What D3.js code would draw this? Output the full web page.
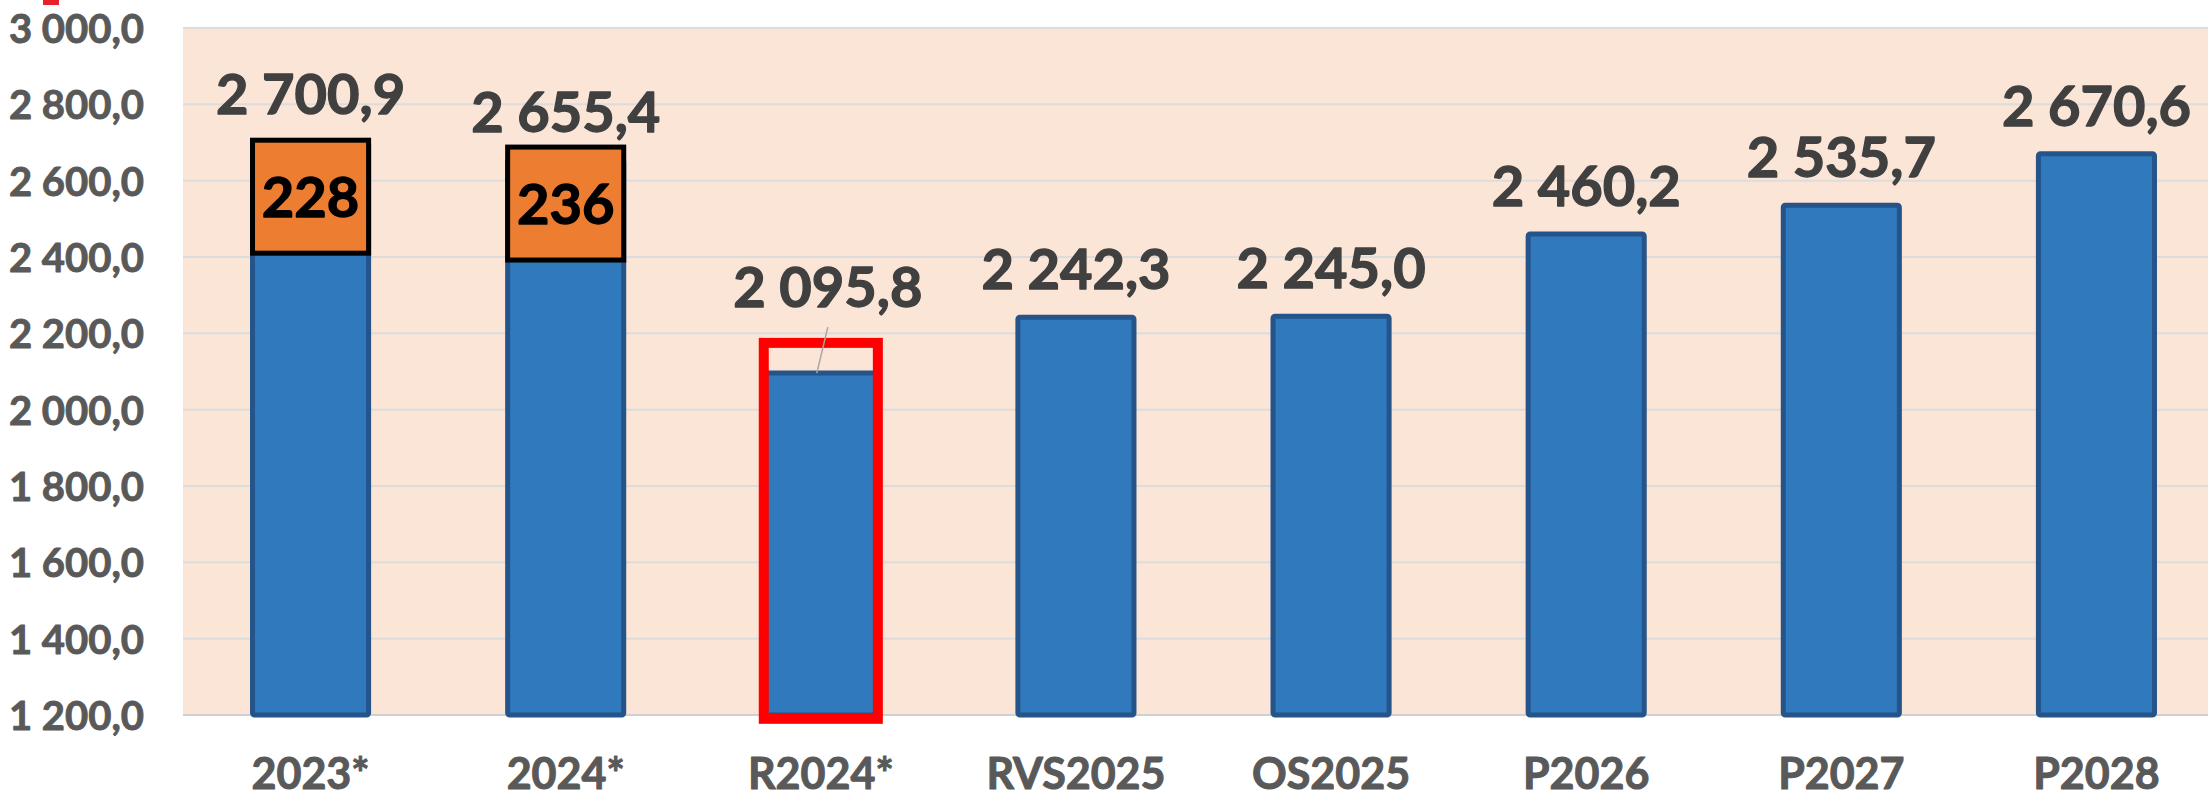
<!DOCTYPE html>
<html>
<head>
<meta charset="utf-8">
<script src="https://cdn.jsdelivr.net/npm/d3@7"></script>
<style>
  body { margin:0; background:#fff; }
  svg text { font-family:Lato,"Open Sans",sans-serif; font-weight:bold; }
</style>
</head>
<body>
<div id="chart"></div>
<script>
// data
var categories = ["2023*", "2024*", "R2024*", "RVS2025", "OS2025", "P2026", "P2027", "P2028"];
var values = [2700.9, 2655.4, 2095.8, 2242.3, 2245.0, 2460.2, 2535.7, 2670.6];
var yTicks = [1200, 1400, 1600, 1800, 2000, 2200, 2400, 2600, 2800, 3000];

// orange boxes on the first two bars (value shown, top and bottom in axis units)
var insetCats = ["2023*", "2024*"];
var insetValues = [228, 236];
var insetTop = [2706, 2688];
var insetBottom = [2410, 2392];

// red frame around R2024*
var frameCat = "R2024*";
var frameTop = 2175;
var frameBottom = 1190;

var W = 2208, H = 797;
var margin = { top:28, left:183, right:-16, bottom:82 };
var width = W - margin.left - margin.right;
var height = H - margin.top - margin.bottom;

var loc = d3.formatLocale({ decimal:",", thousands:"\u00a0", grouping:[3] });
var fmt = loc.format(",.1f");

var svg = d3.select("#chart")
  .append("svg")
  .attr("width", W)
  .attr("height", H);

// small red mark at top left
svg.append("rect")
  .attr("x", 43).attr("y", 0).attr("width", 16).attr("height", 5)
  .attr("fill", "#e8202a");

var g = svg.append("g")
  .attr("transform", "translate(" + margin.left + "," + margin.top + ")");

var x = d3.scaleBand()
  .domain(categories)
  .range([0, width])
  .paddingInner(0.545)
  .paddingOuter(0.2725);

var y = d3.scaleLinear()
  .domain([1200, 3000])
  .range([height, 0]);

// plot background
g.append("rect")
  .attr("x", 0).attr("y", 0)
  .attr("width", width).attr("height", height)
  .attr("fill", "#fbe5d7");

// gridlines
g.selectAll(".grid")
  .data(yTicks)
  .enter().append("line")
  .attr("class", "grid")
  .attr("x1", 0).attr("x2", width)
  .attr("y1", function(d){ return y(d); })
  .attr("y2", function(d){ return y(d); })
  .attr("stroke", function(d){ return d == 1200 ? "#d0d0d0" : "#dcdcdc"; })
  .attr("stroke-width", 2);

// thicker look for the bold labels
function heavy(sel, color, w) {
  sel.attr("stroke", color).attr("stroke-width", w).attr("stroke-linejoin", "round");
}

// y axis labels
var yAxis = d3.axisLeft(y).tickValues(yTicks).tickFormat(fmt).tickSize(0).tickPadding(39);
var ya = g.append("g").call(yAxis);
ya.select(".domain").remove();
ya.selectAll("text")
  .attr("fill", "#595959")
  .style("font-size", "40px")
  .style("font-family", "Lato,'Open Sans',sans-serif")
  .style("font-weight", "bold")
  .attr("dy", "0.36em")
  .call(heavy, "#595959", 0.9);

// x axis labels
var xAxis = d3.axisBottom(x).tickSize(0).tickPadding(43);
var xa = g.append("g").attr("transform", "translate(0," + height + ")").call(xAxis);
xa.select(".domain").remove();
xa.selectAll("text")
  .attr("fill", "#595959")
  .style("font-size", "43px")
  .style("font-family", "Lato,'Open Sans',sans-serif")
  .style("font-weight", "bold")
  .call(heavy, "#595959", 1);

// bars
g.selectAll(".bar")
  .data(values)
  .enter().append("rect")
  .attr("class", "bar")
  .attr("x", function(d, i){ return x(categories[i]); })
  .attr("y", function(d){ return y(d); })
  .attr("width", x.bandwidth())
  .attr("height", function(d){ return height - y(d); })
  .attr("rx", 2)
  .attr("fill", "#3179bd")
  .attr("stroke", "#24548a")
  .attr("stroke-width", 5);

// orange boxes
g.selectAll(".inset")
  .data(insetValues)
  .enter().append("rect")
  .attr("class", "inset")
  .attr("x", function(d, i){ return x(insetCats[i]); })
  .attr("y", function(d, i){ return y(insetTop[i]); })
  .attr("width", x.bandwidth())
  .attr("height", function(d, i){ return y(insetBottom[i]) - y(insetTop[i]); })
  .attr("fill", "#ed7d31")
  .attr("stroke", "#000")
  .attr("stroke-width", 5);

g.selectAll(".insetText")
  .data(insetValues)
  .enter().append("text")
  .attr("class", "insetText")
  .attr("x", function(d, i){ return x(insetCats[i]) + x.bandwidth() / 2; })
  .attr("y", function(d, i){ return (y(insetTop[i]) + y(insetBottom[i])) / 2 + 20; })
  .attr("text-anchor", "middle")
  .attr("fill", "#000")
  .style("font-size", "56px")
  .call(heavy, "#000", 1.3)
  .text(function(d){ return d; });

// red frame
g.append("rect")
  .attr("x", x(frameCat) + 1)
  .attr("y", y(frameTop))
  .attr("width", x.bandwidth() - 2)
  .attr("height", y(frameBottom) - y(frameTop))
  .attr("fill", "none")
  .attr("stroke", "#ff0000")
  .attr("stroke-width", 10);

// value labels
var labelShift = categories.map(function(c){ return c == frameCat ? 38 : 0; });
g.selectAll(".val")
  .data(values)
  .enter().append("text")
  .attr("class", "val")
  .attr("x", function(d, i){ return x(categories[i]) + x.bandwidth() / 2 + (labelShift[i] ? 7 : 0); })
  .attr("y", function(d, i){ return y(d) - 28 - labelShift[i]; })
  .attr("text-anchor", "middle")
  .attr("fill", "#404040")
  .style("font-size", "56px")
  .call(heavy, "#404040", 1.3)
  .text(function(d){ return fmt(d); });

// leader line for the moved label
g.selectAll(".leader")
  .data(values.filter(function(d, i){ return labelShift[i]; }))
  .enter().append("line")
  .attr("class", "leader")
  .attr("x1", x(frameCat) + x.bandwidth() / 2 + 7)
  .attr("y1", function(d){ return y(d) - 46; })
  .attr("x2", x(frameCat) + x.bandwidth() / 2 - 4)
  .attr("y2", function(d){ return y(d); })
  .attr("stroke", "#a6a6a6")
  .attr("stroke-width", 1.5);
</script>
</body>
</html>
